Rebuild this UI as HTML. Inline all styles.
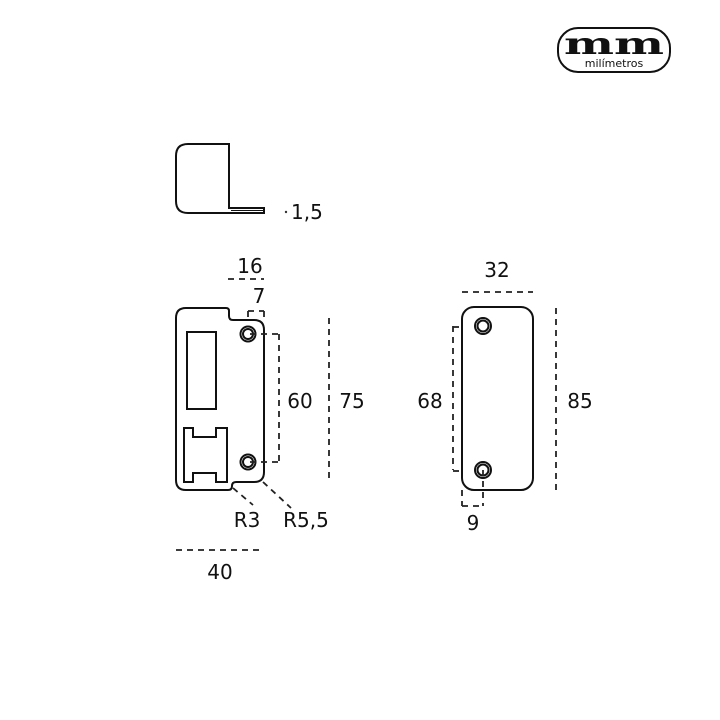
<!DOCTYPE html>
<html><head><meta charset="utf-8"><style>
html,body{margin:0;padding:0;background:#fff;}
svg{display:block;}
text{font-family:"DejaVu Sans","Liberation Sans",sans-serif;font-size:20px;fill:#111;}
</style></head><body>
<svg width="720" height="720" viewBox="0 0 720 720" xmlns="http://www.w3.org/2000/svg">
<g fill="none" stroke="#111" stroke-width="2">
<path d="M229,144 L188,144 Q176,144 176,156 L176,201 Q176,213 188,213 L264,213 L264,208 L229,208 Z"/>
<line x1="231" y1="210.5" x2="263" y2="210.5" stroke-width="1"/>
<path d="M186,308 L226,308 Q229,308 229,311 L229,316 Q229,320 233,320 L254,320 Q264,320 264,330 L264,472 Q264,482 254,482 L236,482 Q232,482 232,486 Q232,490 228,490 L186,490 Q176,490 176,480 L176,318 Q176,308 186,308 Z"/>
<rect x="187" y="332" width="29" height="77"/>
<path d="M184,428 L193,428 L193,437 L216,437 L216,428 L227,428 L227,482 L216,482 L216,473 L193,473 L193,482 L184,482 Z"/>
<circle cx="248" cy="334" r="7.5"/><circle cx="248" cy="334" r="5"/>
<circle cx="248" cy="462" r="7.5"/><circle cx="248" cy="462" r="5"/>
<rect x="462" y="307" width="71" height="183" rx="12"/>
<circle cx="483" cy="326" r="8"/><circle cx="483" cy="326" r="5.5"/>
<circle cx="483" cy="470" r="8"/><circle cx="483" cy="470" r="5.5"/>
</g>
<g fill="none" stroke="#222" stroke-width="1.8" stroke-dasharray="6,5">
<line x1="228" y1="279" x2="264" y2="279"/>
<line x1="248" y1="311" x2="264" y2="311"/>
<line x1="248" y1="311" x2="248" y2="318"/>
<line x1="264" y1="311" x2="264" y2="320"/>
<line x1="250" y1="334" x2="279" y2="334"/>
<line x1="250" y1="462" x2="279" y2="462"/>
<line x1="279" y1="334" x2="279" y2="462"/>
<line x1="329" y1="318" x2="329" y2="480"/>
<line x1="233" y1="488" x2="253" y2="505"/>
<line x1="263" y1="482" x2="291" y2="508"/>
<line x1="176" y1="550" x2="264" y2="550"/>
<line x1="462" y1="292" x2="533" y2="292"/>
<line x1="556" y1="308" x2="556" y2="490"/>
<line x1="453" y1="326" x2="453" y2="470"/>
<line x1="453" y1="327" x2="462" y2="327"/>
<line x1="453" y1="471" x2="462" y2="471"/>
<line x1="462" y1="490" x2="462" y2="506"/>
<line x1="462" y1="506" x2="483" y2="506"/>
<line x1="483" y1="470" x2="483" y2="506"/>
</g>
<circle cx="286" cy="212" r="1.2" fill="#333"/>
<text x="291" y="219">1,5</text>
<text x="250" y="273" text-anchor="middle">16</text>
<text x="259" y="303" text-anchor="middle">7</text>
<text x="300" y="408" text-anchor="middle">60</text>
<text x="352" y="408" text-anchor="middle">75</text>
<text x="430" y="408" text-anchor="middle">68</text>
<text x="580" y="408" text-anchor="middle">85</text>
<text x="497" y="277" text-anchor="middle">32</text>
<text x="473" y="530" text-anchor="middle">9</text>
<text x="247" y="527" text-anchor="middle">R3</text>
<text x="306" y="527" text-anchor="middle">R5,5</text>
<text x="220" y="579" text-anchor="middle">40</text>
<rect x="558" y="28" width="112" height="44" rx="20" fill="none" stroke="#111" stroke-width="2"/>
<text x="614" y="54" text-anchor="middle" textLength="100" lengthAdjust="spacingAndGlyphs" style="font-family:'DejaVu Serif','Liberation Serif',serif;font-size:30px;font-weight:bold;">mm</text>
<text x="614" y="67" text-anchor="middle" style="font-size:11px;">milímetros</text>
</svg>
</body></html>
